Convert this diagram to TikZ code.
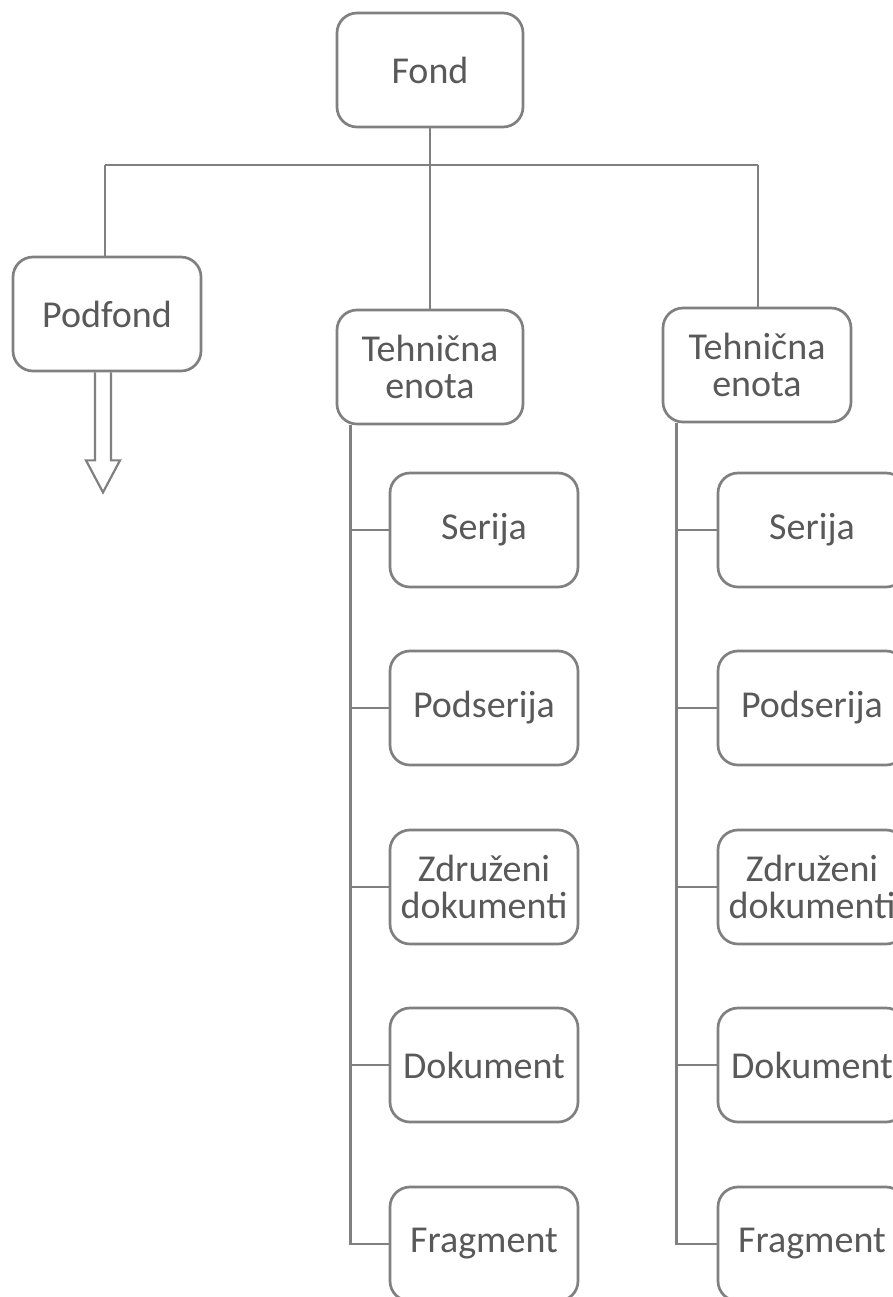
\documentclass[tikz,border=0pt]{standalone}
\usepackage{fontspec}
\setmainfont{Carlito}
\usetikzlibrary{calc}
\definecolor{linegray}{RGB}{128,128,128}
\definecolor{textgray}{RGB}{89,89,89}
\tikzset{
  box/.style={draw=linegray, line width=1.35pt, rounded corners=10pt, fill=white,
    minimum width=94pt, minimum height=57pt, align=center, inner sep=2pt,
    text=textgray, font=\fontsize{19pt}{18.5pt}\selectfont},
  conn/.style={draw=linegray, line width=1.35pt},
}
\begin{document}
\begin{tikzpicture}[x=0.5pt,y=-0.5pt]
\useasboundingbox (0,0) rectangle (893,1297);
\clip (0,0) rectangle (893,1297);
% top
\node[box, minimum width=93pt] (fond) at (430,70) {Fond};
\node[box] (podfond) at (107,314) {Podfond};
\node[box, minimum width=93pt] (te1) at (430,367) {Tehnična\\enota};
\node[box] (te2) at (757,365) {Tehnična\\enota};
\coordinate (bus) at (430,165);
\coordinate (busl) at (105,165);
\coordinate (busr) at (758,165);
\draw[conn] (fond.south) -- (bus);
\draw[conn] (busl) -- (busr);
\draw[conn] (busl) -- (busl |- podfond.north);
\draw[conn] (bus) -- (te1.north);
\draw[conn] (busr) -- (busr |- te2.north);
% arrow from Podfond
\coordinate (ar) at ($(podfond.south)+(-4,0)$);
\draw[conn, line width=1.1pt, line join=miter]
  ($(ar)+(-8,0)$) -- ($(ar)+(-8,88)$) -- ($(ar)+(-17,88)$) -- ($(ar)+(0,120)$)
  -- ($(ar)+(17,88)$) -- ($(ar)+(8,88)$) -- ($(ar)+(8,0)$);
% middle column
\node[box] (ser1) at (484,530) {Serija};
\node[box] (pods1) at (484,708) {Podserija};
\node[box] (zdr1) at (484,887) {Združeni\\dokumenti};
\node[box] (dok1) at (484,1065) {Dokument};
\node[box] (frag1) at (484,1244) {Fragment};
\coordinate (s1) at ($(te1.south west)+(15,0)$);
\draw[conn] (s1) |- (frag1.west);
\foreach \n in {ser1,pods1,zdr1,dok1}{\draw[conn] (s1 |- \n.west) -- (\n.west);}
% right column
\node[box] (ser2) at (812,530) {Serija};
\node[box] (pods2) at (812,708) {Podserija};
\node[box] (zdr2) at (812,887) {Združeni\\dokumenti};
\node[box] (dok2) at (812,1065) {Dokument};
\node[box] (frag2) at (812,1244) {Fragment};
\coordinate (s2) at ($(te2.south west)+(15,0)$);
\draw[conn] (s2) |- (frag2.west);
\foreach \n in {ser2,pods2,zdr2,dok2}{\draw[conn] (s2 |- \n.west) -- (\n.west);}
\end{tikzpicture}
\end{document}
